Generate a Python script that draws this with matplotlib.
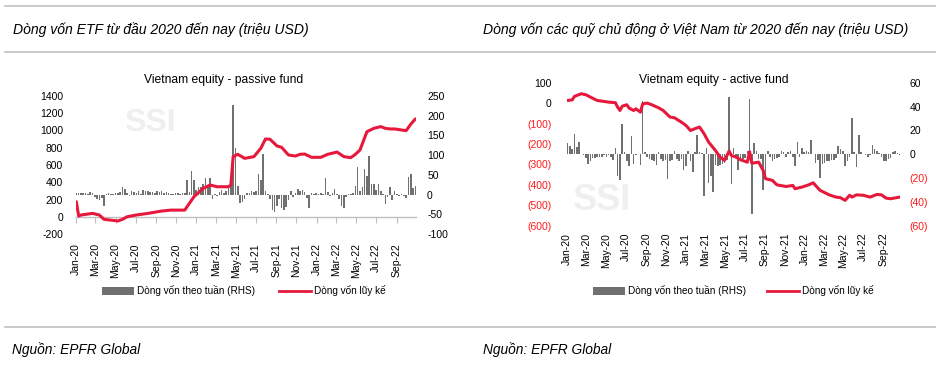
import numpy as np
import pandas as pd
import matplotlib
matplotlib.use("Agg")
import matplotlib.pyplot as plt
from matplotlib.patches import Patch
from matplotlib.lines import Line2D
from matplotlib import font_manager

# ---------------- data ----------------
# Passive fund: weekly flows (RHS, mn USD) from first week of Jan 2020
passive_weekly = [5, 4, 5, 3, 4, 2, 6, 3, -6, -10,
                  -14, -8, -28, 2, 3, 1, 2, 4, 3, 6,
                  19, 15, 4, -3, 8, 6, 3, 9, 2, 12,
                  8, 10, 6, 7, 5, 8, 6, 9, 4, 7,
                  3, 2, 1, 4, 3, 2, 5, 3, 38, 6,
                  61, 38, 12, 18, 20, 28, 43, 25, 41, -11,
                  2, -4, 6, 12, 4, 8, 18, 22, 228, 117,
                  22, -21, -18, -12, 3, 5, 8, 6, 10, 52,
                  37, 104, 8, 2, -12, -38, -45, -30, -10, -35,
                  -38, -32, -15, 8, -6, 5, 14, 8, 12, 6,
                  -8, -34, 3, 2, 4, 1, 3, 2, 43, 6,
                  -3, 4, 14, 2, -10, -28, -33, -5, 2, 1,
                  3, 22, 70, 8, 18, 64, 48, 97, 28, 26,
                  12, 28, 8, 2, -24, -6, 18, -14, 8, 2,
                  -4, 2, -3, -8, 45, 53, 16, 21]
# Passive fund cumulative flow (LHS): week index -> value
passive_cum_week = [0, 1, 2, 7, 10, 12, 18, 20, 22, 26, 31, 37, 41, 47, 49, 51, 55, 58, 61, 66,
                    67, 68, 70, 73, 77, 80, 82, 84, 87, 89, 92, 95, 97, 99, 102, 106, 109, 112,
                    113, 116, 119, 121, 123, 126, 129, 132, 134, 136, 138, 143, 145, 147]
passive_cum_val = [174, 8, 20, 39, 20, -30, -49, -30, 0, 20, 39, 66, 77, 77, 155, 232, 329, 368,
                   348, 348, 368, 697, 724, 677, 697, 794, 902, 898, 821, 805, 716, 704, 724,
                   727, 689, 689, 724, 743, 751, 697, 685, 724, 774, 986, 1025, 1045, 1025,
                   1018, 1018, 998, 1072, 1134]

# Active fund: weekly flows (RHS)
active_weekly = [9, 7, 4, 17, 6, 10, 0, -1, -3, -8,
                 -6, -3, -3, -2, -2, -2, -1, -2, -1, -2,
                 -5, 5, -18, -22, 25, 2, -6, -10, 15, -8,
                 -1, 0, -9, 45, 2, -2, -4, -5, -6, -9,
                 2, -4, -6, -5, -21, -6, -5, 3, -4, -6,
                 -4, -13, -10, 3, -6, -15, 2, 16, 2, 1,
                 -35, 5, -24, -18, -32, -9, -10, -9, -8, -7,
                 -5, 48, -25, 5, -2, -13, -3, -4, -3, 3,
                 46, -50, 9, 3, -4, -4, -30, -22, 3, -2,
                 -6, -4, -3, -2, 3, 2, -2, 2, 3, -2,
                 -10, 10, -2, 5, 2, 3, 2, 12, 0, -7,
                 -5, -20, -8, -7, -6, -6, -5, -5, -3, 7,
                 4, 3, -10, -6, -2, 30, 2, -11, 16, 2,
                 0, -1, -2, -1, 8, 4, 3, 1, -2, -6,
                 -6, -4, -3, 2, 3, 1, -1]
active_cum_week = [0, 2, 3, 6, 8, 11, 13, 18, 21, 22, 23, 24, 26, 27, 29, 30, 32, 33, 35, 37,
                   40, 42, 45, 47, 50, 52, 54, 56, 58, 60, 62, 65, 67, 69, 71, 72, 74, 76, 79,
                   80, 81, 84, 86, 87, 90, 92, 96, 99, 100, 103, 106, 108, 109, 111, 115, 118,
                   120, 122, 124, 125, 127, 130, 133, 136, 138, 140, 142, 146]
active_cum_val = [13, 16, 33, 46, 41, 24, 13, 5, 2, -20, -36, -15, -8, -24, -36, -28, -44, -3, 0,
                  -8, -23, -36, -68, -72, -93, -109, -134, -125, -117, -150, -191, -232, -264,
                  -280, -235, -256, -264, -277, -289, -238, -294, -289, -330, -370, -378, -400,
                  -408, -403, -419, -411, -400, -390, -403, -427, -449, -460, -463, -476, -451,
                  -460, -449, -451, -460, -447, -449, -465, -468, -460]

x_tick_labels = ["Jan-20", "Mar-20", "May-20", "Jul-20", "Sep-20", "Nov-20", "Jan-21",
                 "Mar-21", "May-21", "Jul-21", "Sep-21", "Nov-21", "Jan-22", "Mar-22",
                 "May-22", "Jul-22", "Sep-22"]
legend_labels = ["Dòng vốn theo tuần (RHS)", "Dòng vốn lũy kế"]

# ---------------- style ----------------
names = {f.name for f in font_manager.fontManager.ttflist}
NARROW = "Liberation Sans Narrow" if "Liberation Sans Narrow" in names else "Liberation Sans"
plt.rcParams["font.family"] = [NARROW, "DejaVu Sans"]

W, H = 937, 377
fig = plt.figure(figsize=(W / 100, H / 100), dpi=100)
fig.patch.set_facecolor("white")

def fx(p):
    return p / W

def fy(p):
    return 1 - p / H

RED = "#e6193c"
GREY = "#707070"
TICK_FS = 7.5
tick_dates = pd.to_datetime(["%s-01" % pd.to_datetime(t, format="%b-%y").strftime("%Y-%m") for t in x_tick_labels])


def make_panel(left, right, top, bottom, weekly, cum_idx, cum_val,
               ylim_l, ystep_l, ylim_r, ystep_r, paren, xend, lpad, rpad, xpad, zero_ticks):
    ax = fig.add_axes([fx(left), fy(bottom), fx(right) - fx(left), (bottom - top) / H])
    ax2 = ax.twinx()
    dates = pd.date_range("2020-01-03", periods=len(weekly), freq="7D")
    ax2.bar(dates, weekly, width=4.8, color=GREY, linewidth=0)
    ax.plot(dates[cum_idx], cum_val, color=RED, lw=2.2, solid_joinstyle="round",
            solid_capstyle="round", zorder=5)
    ax.set_zorder(ax2.get_zorder() + 1)
    ax.patch.set_visible(False)
    ax2.patch.set_visible(False)
    ax.set_xlim(pd.Timestamp("2020-01-01"), pd.Timestamp(xend))
    ax.set_ylim(*ylim_l)
    ax2.set_ylim(*ylim_r)
    for a in (ax, ax2):
        for s in a.spines.values():
            s.set_visible(False)

    def fmt(v):
        v = int(round(v))
        if paren and v < 0:
            return "(%d)" % abs(v)
        return "%d" % v

    lt = np.arange(ylim_l[0], ylim_l[1] + 1, ystep_l)
    rt = np.arange(ylim_r[0], ylim_r[1] + 1, ystep_r)
    ax.set_yticks(lt, labels=[fmt(v) for v in lt])
    ax2.set_yticks(rt, labels=[fmt(v) for v in rt])
    ax.tick_params(axis="y", length=0, pad=lpad, labelsize=TICK_FS, labelcolor="black")
    ax2.tick_params(axis="y", length=0, pad=rpad, labelsize=TICK_FS, labelcolor="black")
    if paren:
        for lbl, v in zip(ax.get_yticklabels(), lt):
            lbl.set_color("#ff1a1a" if v < 0 else "black")
        for lbl, v in zip(ax2.get_yticklabels(), rt):
            lbl.set_color("#ff1a1a" if v < 0 else "black")

    ax.set_xticks(tick_dates, labels=x_tick_labels)
    ax.tick_params(axis="x", length=0, pad=xpad, labelsize=TICK_FS, labelrotation=90)
    # zero line of the category axis
    frac = (0 - ylim_l[0]) / (ylim_l[1] - ylim_l[0])
    sec = ax.secondary_xaxis(frac)
    sec.set_xticks(tick_dates if zero_ticks else [])
    sec.tick_params(axis="x", length=4 if zero_ticks else 0, width=0.8,
                    color="#bfbfbf", labelbottom=False, direction="out")
    sec.spines["bottom"].set_color("#bfbfbf" if zero_ticks else "#d9d9d9")
    sec.spines["bottom"].set_linewidth(1.0 if zero_ticks else 1.6)
    for k in ("top", "left", "right"):
        sec.spines[k].set_visible(False)
    return ax, ax2


make_panel(75.7, 416, 96, 234, passive_weekly, passive_cum_week, passive_cum_val,
           (-200, 1400), 200, (-100, 250), 50, False, "2022-10-30", 9, 8, 6.5, True)
make_panel(567, 900, 82.7, 225.7, active_weekly, active_cum_week, active_cum_val,
           (-600, 100), 100, (-60, 60), 20, True, "2022-10-22", 11, 7, 5, False)

# watermarks
fig.text(fx(150), fy(123), "SSI", fontsize=23, fontweight="bold", color="#efefef",
         ha="center", va="center", zorder=-5, family=["Liberation Sans", "DejaVu Sans"])
fig.text(fx(602), fy(200), "SSI", fontsize=26, fontweight="bold", color="#efefef",
         ha="center", va="center", zorder=-5, family=["Liberation Sans", "DejaVu Sans"])

# chart titles
fig.text(fx(224), fy(80), "Vietnam equity - passive fund", fontsize=8.7, ha="center", va="center")
fig.text(fx(714), fy(80), "Vietnam equity - active fund", fontsize=8.7, ha="center", va="center")

# section headers and rules
fig.text(fx(13), fy(29.5), "Dòng vốn ETF từ đầu 2020 đến nay (triệu USD)", fontsize=10.1,
         style="italic", ha="left", va="center")
fig.text(fx(483), fy(29.5), "Dòng vốn các quỹ chủ động ở Việt Nam từ 2020 đến nay (triệu USD)",
         fontsize=10.1, style="italic", ha="left", va="center")
fig.text(fx(12), fy(350), "Nguồn: EPFR Global", fontsize=9.9, style="italic", ha="left", va="center")
fig.text(fx(483), fy(350), "Nguồn: EPFR Global", fontsize=9.9, style="italic", ha="left", va="center")
for y in (6, 52, 327):
    fig.add_artist(Line2D([fx(5), fx(937)], [fy(y), fy(y)], color="#c0c0c0", lw=1.2))

# legends
handles = [Patch(facecolor=GREY, edgecolor="none"), Line2D([], [], color=RED, lw=2.0)]
for xl, cs in ((102, 2.4), (593, 2.1)):
    fig.legend(handles, legend_labels, loc="center left", bbox_to_anchor=(fx(xl), fy(291)),
               ncol=2, frameon=False, fontsize=7.2, handlelength=3.2, handleheight=0.8,
               handletextpad=0.3, columnspacing=cs, borderpad=0, borderaxespad=0)

fig.savefig("out.png", dpi=100, facecolor="white")
